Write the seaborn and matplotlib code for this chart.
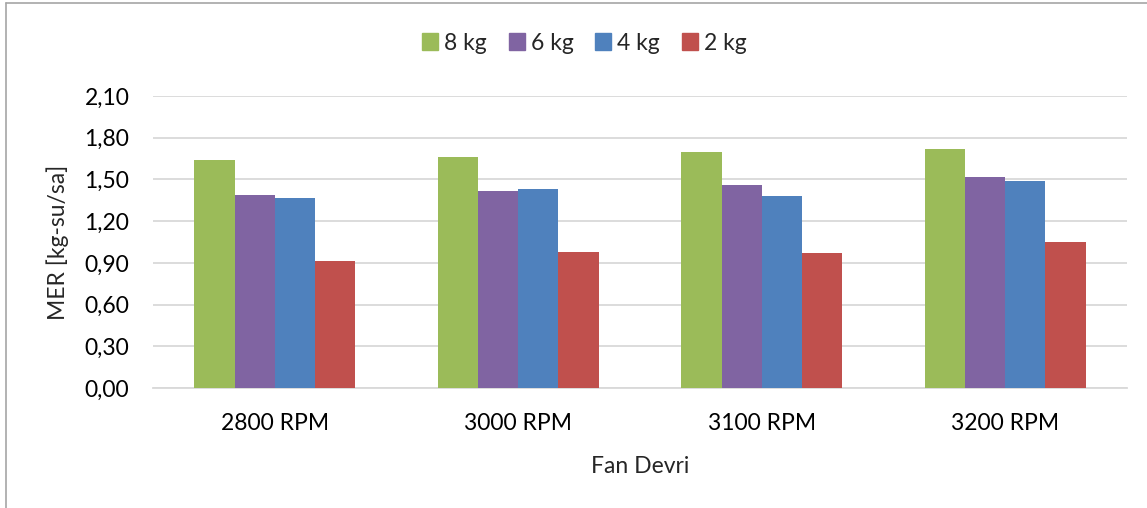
import matplotlib
matplotlib.use("Agg")
import matplotlib.pyplot as plt
import seaborn as sns
import pandas as pd
from matplotlib.lines import Line2D

categories = ["2800 RPM", "3000 RPM", "3100 RPM", "3200 RPM"]
series_names = ["8 kg", "6 kg", "4 kg", "2 kg"]
vals_8kg = [1.64, 1.66, 1.70, 1.72]
vals_6kg = [1.39, 1.42, 1.46, 1.52]
vals_4kg = [1.37, 1.43, 1.38, 1.49]
vals_2kg = [0.91, 0.98, 0.97, 1.05]
yticks = [0.0, 0.3, 0.6, 0.9, 1.2, 1.5, 1.8, 2.1]
ytick_labels = ["0,00", "0,30", "0,60", "0,90", "1,20", "1,50", "1,80", "2,10"]
colors = ["#9BBB59", "#8064A2", "#4F81BD", "#C0504D"]

rows = []
for name, vals in zip(series_names, [vals_8kg, vals_6kg, vals_4kg, vals_2kg]):
    for c, v in zip(categories, vals):
        rows.append({"cat": c, "series": name, "val": v})
df = pd.DataFrame(rows)

sns.set_theme(style="white")
plt.rcParams["font.family"] = ["Lato", "DejaVu Sans"]

FS = 16.5
fig = plt.figure(figsize=(11.47, 5.08), dpi=100)
ax = fig.add_axes([153/1147, 1-388/508, (1127-153)/1147, (388-96)/508])

sns.barplot(data=df, x="cat", y="val", hue="series", order=categories,
            hue_order=series_names, palette=colors, width=0.66, gap=0,
            saturation=1, ax=ax, zorder=3, edgecolor="none", linewidth=0)

ax.set_ylim(0, 2.1)
ax.set_xlim(-0.5, 3.5)
ax.set_yticks(yticks)
ax.set_yticklabels(ytick_labels)
ax.yaxis.grid(True, color="#d9d9d9", linewidth=1.3, zorder=0)
ax.set_axisbelow(True)
for s in ["top", "right", "left"]:
    ax.spines[s].set_visible(False)
ax.spines["bottom"].set_color("#d9d9d9")
ax.spines["bottom"].set_linewidth(1.3)
ax.tick_params(axis="y", length=0, labelsize=FS, colors="#000000", pad=17)
ax.tick_params(axis="x", length=0, labelsize=FS, colors="#000000", pad=18)
ax.set_xlabel("Fan Devri", fontsize=FS, labelpad=16)
ax.set_ylabel("MER [kg-su/sa]", fontsize=FS, labelpad=11)

ax.legend_.remove()
handles = [plt.Rectangle((0, 0), 1, 1, color=c) for c in colors]
fig.legend(handles, series_names, loc="center", bbox_to_anchor=(0.5 + 11/1147, 1-43/508),
           ncol=4, frameon=False, fontsize=FS, handlelength=0.7, handleheight=0.7,
           handletextpad=0.26, columnspacing=0.95)

fig.add_artist(Line2D([6/1147, 6/1147], [0, 1-3/508], transform=fig.transFigure,
                      color="#a6a6a6", linewidth=1.2))
fig.add_artist(Line2D([6/1147, 1], [1-3/508, 1-3/508], transform=fig.transFigure,
                      color="#a6a6a6", linewidth=1.2))

fig.savefig("out.png", dpi=100)
